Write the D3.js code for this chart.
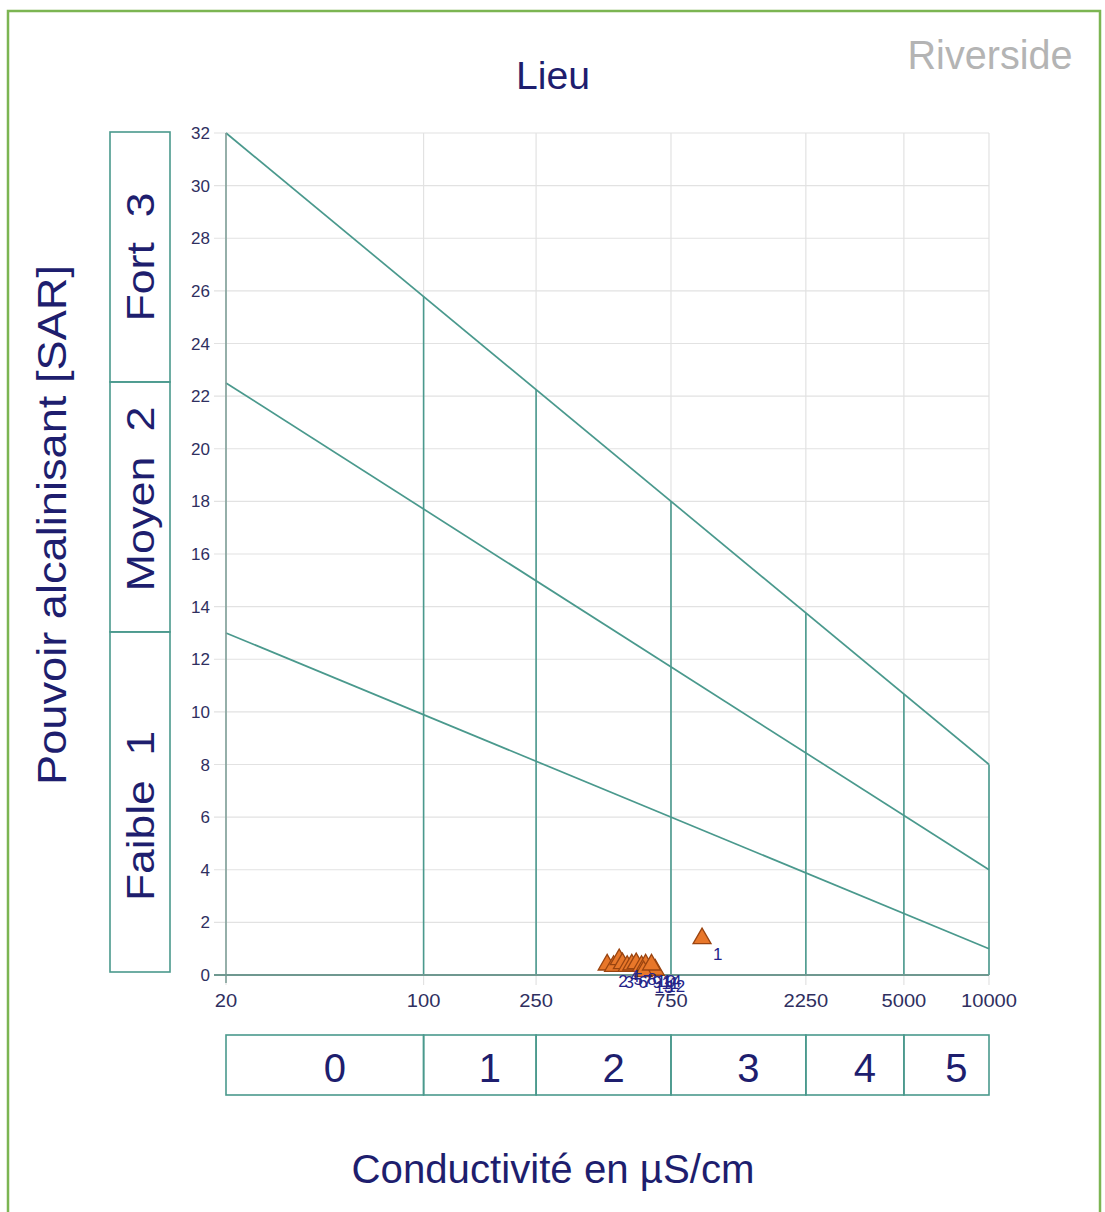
<!DOCTYPE html>
<html>
<head>
<meta charset="utf-8">
<script src="https://cdn.jsdelivr.net/npm/d3@7/dist/d3.min.js"></script>
<style>
  html, body { margin: 0; padding: 0; background: #fff; }
  svg { display: block; }
  text { font-family: "Liberation Sans", Arial, sans-serif; }
</style>
</head>
<body>
<svg id="chart" width="1105" height="1212"></svg>
<script>
// Conductivity tick values (µS/cm) and class boundaries on the x axis
const ecTicks = [20, 100, 250, 750, 2250, 5000, 10000];
const ecClasses = ["0", "1", "2", "3", "4", "5"];

// SAR tick values
const sarTicks = d3.range(0, 33, 2);

// Alkalinity hazard classes (SAR at EC = 20, SAR at EC = 10000)
const sarClassLabels = ["Faible\u00a0\u00a01", "Moyen\u00a0\u00a02", "Fort\u00a0\u00a03"];
const boundaryStart = [13, 22.5, 32];
const boundaryEnd = [1, 4, 8];

// Samples: id, conductivity (µS/cm), SAR
const sampleIds = [1, 2, 3, 4, 5, 6, 7, 8, 9, 10, 11, 12, 13, 14];
const sampleEC  = [966, 446, 470, 492, 505, 525, 545, 565, 590, 610, 635, 660, 600, 640];
const sampleSAR = [1.35, 0.35, 0.3, 0.55, 0.4, 0.3, 0.35, 0.4, 0.3, 0.35, 0.25, 0.15, 0.1, 0.35];

const svg = d3.select("#chart");

const teal = "#4a998d";
const navy = "#1e1e6e";
const tickCol = "#2f2f5f";

const x = d3.scaleLog().domain([20, 10000]).range([226, 989]);
const y = d3.scaleLinear().domain([0, 32]).range([975, 133]);

// outer frame
svg.append("rect")
  .attr("x", 8).attr("y", 11).attr("width", 1092).attr("height", 1230)
  .attr("fill", "none").attr("stroke", "#7cb552").attr("stroke-width", 2.5);

// light grid
const grid = svg.append("g");
grid.selectAll("line.h").data(sarTicks).join("line")
  .attr("x1", x(20) - 12).attr("x2", x(10000))
  .attr("y1", d => y(d)).attr("y2", d => y(d))
  .attr("stroke", "#e2e2e2").attr("stroke-width", 1.2);
grid.selectAll("line.v").data(ecTicks).join("line")
  .attr("x1", d => x(d)).attr("x2", d => x(d))
  .attr("y1", y(32)).attr("y2", y(0) + 10)
  .attr("stroke", "#e2e2e2").attr("stroke-width", 1.2);

// boundary lines between hazard classes
const lineG = svg.append("g");
boundaryStart.forEach((s, i) => {
  lineG.append("line")
    .attr("x1", x(20)).attr("y1", y(s))
    .attr("x2", x(10000)).attr("y2", y(boundaryEnd[i]))
    .attr("stroke", teal).attr("stroke-width", 1.7);
});

// vertical class separators, up to the top boundary
const topStart = boundaryStart[2], topEnd = boundaryEnd[2];
const lx0 = Math.log10(20), lx1 = Math.log10(10000);
function topAt(ec) {
  const t = (Math.log10(ec) - lx0) / (lx1 - lx0);
  return topStart + (topEnd - topStart) * t;
}
lineG.selectAll("line.sep").data(ecTicks.slice(1)).join("line")
  .attr("x1", d => x(d)).attr("x2", d => x(d))
  .attr("y1", y(0)).attr("y2", d => y(topAt(d)))
  .attr("stroke", teal).attr("stroke-width", 1.6);

// axes lines
svg.append("line").attr("x1", x(20)).attr("x2", x(20)).attr("y1", y(0) + 8).attr("y2", y(32))
  .attr("stroke", "#7f9f98").attr("stroke-width", 1.6);
svg.append("line").attr("x1", x(20) - 12).attr("x2", x(10000)).attr("y1", y(0)).attr("y2", y(0))
  .attr("stroke", "#6f9890").attr("stroke-width", 1.8);

// tick labels
svg.append("g").selectAll("text").data(sarTicks).join("text")
  .attr("x", 210).attr("y", d => y(d) + 6)
  .attr("text-anchor", "end").attr("font-size", 17).attr("fill", tickCol)
  .text(d => d);
svg.append("g").selectAll("text").data(ecTicks).join("text")
  .attr("x", d => x(d)).attr("y", 1007)
  .attr("text-anchor", "middle").attr("font-size", 19).attr("fill", tickCol)
  .attr("textLength", d => String(d).length * 11.2).attr("lengthAdjust", "spacingAndGlyphs")
  .text(d => d);

// SAR class boxes on the left
const boxX = 110, boxW = 60;
const boxEdges = [0].concat(boundaryStart);
const boxTextLen = [170, 185, 129];
const boxTextShift = [14, -8, 0];
sarClassLabels.forEach((lab, i) => {
  const yTop = y(boxEdges[i + 1]) - 1, yBot = i === 0 ? y(0) - 3 : y(boxEdges[i]) - 1;
  svg.append("rect").attr("x", boxX).attr("y", yTop).attr("width", boxW).attr("height", yBot - yTop)
    .attr("fill", "none").attr("stroke", teal).attr("stroke-width", 1.6);
  const cy = (yTop + yBot) / 2 + boxTextShift[i];
  svg.append("text")
    .attr("transform", `translate(${boxX + boxW / 2 + 14},${cy}) rotate(-90)`)
    .attr("text-anchor", "middle").attr("font-size", 38).attr("fill", navy)
    .attr("textLength", boxTextLen[i]).attr("lengthAdjust", "spacingAndGlyphs")
    .text(lab);
});

// conductivity class boxes at the bottom
const bTop = 1035, bBot = 1095;
ecClasses.forEach((lab, i) => {
  const a = x(ecTicks[i]), b = x(ecTicks[i + 1]);
  svg.append("rect").attr("x", a).attr("y", bTop).attr("width", b - a).attr("height", bBot - bTop)
    .attr("fill", "none").attr("stroke", teal).attr("stroke-width", 1.6);
  svg.append("text")
    .attr("x", (a + b) / 2 + 10).attr("y", bTop + 47)
    .attr("text-anchor", "middle").attr("font-size", 40).attr("fill", navy)
    .text(lab);
});

// samples
const samples = sampleIds.map((id, i) => ({ id, ec: sampleEC[i], sar: sampleSAR[i] }));
const tri = d3.symbol().type(d3.symbolTriangle).size(140);
const ptG = svg.append("g");
ptG.selectAll("path").data(samples).join("path")
  .attr("d", tri)
  .attr("transform", d => `translate(${x(d.ec)},${y(d.sar) - 1})`)
  .attr("fill", "#e8772a").attr("stroke", "#9a4410").attr("stroke-width", 1.3);
ptG.selectAll("text").data(samples).join("text")
  .attr("x", d => x(d.ec) + 11).attr("y", d => y(d.sar) + 21)
  .attr("font-size", 17).attr("fill", "#24248a")
  .text(d => d.id);

// titles
svg.append("text").attr("x", 553).attr("y", 89).attr("text-anchor", "middle")
  .attr("font-size", 38).attr("fill", navy)
  .attr("textLength", 74).attr("lengthAdjust", "spacingAndGlyphs").text("Lieu");
svg.append("text").attr("x", 990).attr("y", 69).attr("text-anchor", "middle")
  .attr("font-size", 40).attr("fill", "#b4b4b4")
  .attr("textLength", 165).attr("lengthAdjust", "spacingAndGlyphs").text("Riverside");
svg.append("text")
  .attr("transform", "translate(66,525) rotate(-90)")
  .attr("text-anchor", "middle").attr("font-size", 40).attr("fill", navy)
  .attr("textLength", 520).attr("lengthAdjust", "spacingAndGlyphs")
  .text("Pouvoir alcalinisant [SAR]");
svg.append("text").attr("x", 553).attr("y", 1183).attr("text-anchor", "middle")
  .attr("font-size", 40).attr("fill", navy)
  .attr("textLength", 403).attr("lengthAdjust", "spacingAndGlyphs")
  .text("Conductivité en µS/cm");
</script>
</body>
</html>
